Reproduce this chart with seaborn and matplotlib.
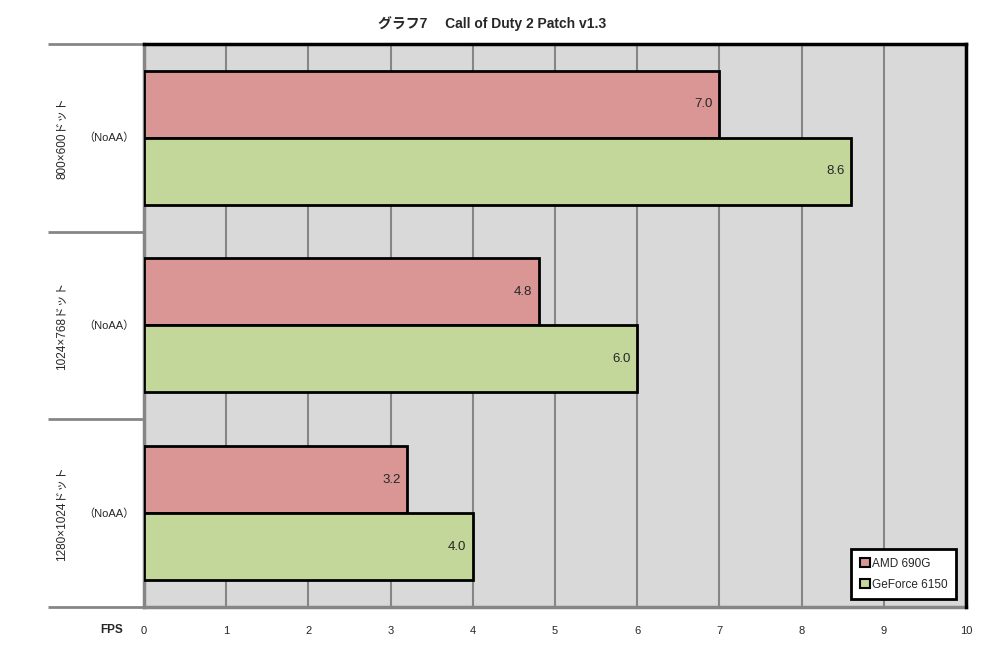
import pandas as pd
import numpy as np
import seaborn as sns
import matplotlib.pyplot as plt
import matplotlib.transforms as mtransforms

resolutions = ['800×600ドット', '1024×768ドット', '1280×1024ドット']
aa_mode = ['(NoAA)', '(NoAA)', '(NoAA)']
gpus = ['AMD 690G', 'GeForce 6150']
amd_fps = [7.0, 4.8, 3.2]
geforce_fps = [8.6, 6.0, 4.0]
x_ticks = [0, 1, 2, 3, 4, 5, 6, 7, 8, 9, 10]

df = pd.DataFrame({
    'res': resolutions * 2,
    'gpu': [gpus[0]] * 3 + [gpus[1]] * 3,
    'fps': amd_fps + geforce_fps,
})

sns.set_style('white')
plt.rcParams['font.family'] = ['Liberation Sans', 'Noto Sans CJK JP', 'DejaVu Sans']

fig = plt.figure(figsize=(9.87, 6.48), dpi=100)
ax = fig.add_axes([0.1459, 0.0633, 0.8328, 0.8688])
ax.set_facecolor('#d9d9d9')

colors = {'AMD 690G': '#d99694', 'GeForce 6150': '#c4d79b'}
sns.barplot(data=df, y='res', x='fps', hue='gpu', hue_order=gpus, order=resolutions,
            orient='h', palette=colors, width=0.714, edgecolor='black', linewidth=2,
            saturation=1, zorder=3, ax=ax, legend=True)

for cont in ax.containers:
    ax.bar_label(cont, fmt='%.1f', padding=-18, fontsize=9.5, zorder=4)

ax.set_xlim(0, 10)
ax.set_ylim(2.5, -0.5)
ax.set_xticks(x_ticks)
ax.set_xticklabels([str(t) for t in x_ticks], fontsize=8)
ax.tick_params(axis='x', length=0, pad=14)
ax.xaxis.grid(True, color='#868686', linewidth=1.5, zorder=0)
ax.set_axisbelow(True)

# category labels, separators as long minor ticks
ax.set_yticks(range(len(resolutions)))
ax.set_yticklabels([])
ax.tick_params(axis='y', which='major', length=0)
ax.set_yticks([-0.5, 0.5, 1.5, 2.5], minor=True)
ax.tick_params(axis='y', which='minor', left=True, direction='out', length=69,
               width=2, color='#868686')
trans = mtransforms.blended_transform_factory(ax.transAxes, ax.transData)
for i, (r, a) in enumerate(zip(resolutions, aa_mode)):
    ax.text(-0.099, i, r, rotation=90, ha='center', va='center', fontsize=8.5, transform=trans)
    ax.text(-0.043, i, a.replace('(', '（').replace(')', '）'), ha='center', va='center',
            fontsize=8, transform=trans)

ax.set_xlabel('')
ax.set_ylabel('')
ax.text(-0.039, -0.04, 'FPS', transform=ax.transAxes, ha='center', va='center',
        fontsize=8.5, fontweight='bold')

for side in ['top', 'right']:
    ax.spines[side].set_color('black')
    ax.spines[side].set_linewidth(2.5)
    ax.spines[side].set_zorder(5)
for side in ['left', 'bottom']:
    ax.spines[side].set_color('#868686')
    ax.spines[side].set_linewidth(2.5)

leg = ax.legend(loc='lower right', bbox_to_anchor=(0.995, 0.004), fontsize=8.5,
                frameon=True, fancybox=False, edgecolor='black', framealpha=1,
                handlelength=0.85, handleheight=0.85, handletextpad=0.2,
                labelspacing=0.75, borderpad=0.7)
leg.get_frame().set_linewidth(2)
for h in leg.legend_handles:
    h.set_linewidth(1.5)

fig.text(0.4985, 0.963, 'グラフ7　 Call of Duty 2 Patch v1.3', ha='center', va='center',
         fontsize=10, fontweight='bold')

plt.savefig('out.png', dpi=100)
